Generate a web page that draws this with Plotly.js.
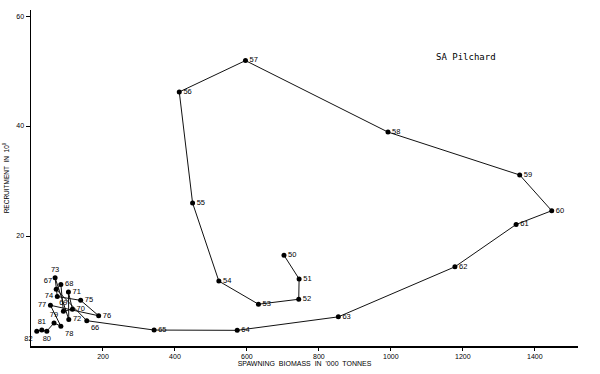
<!DOCTYPE html>
<html>
<head>
<meta charset="utf-8">
<script src="https://cdn.plot.ly/plotly-3.0.1.min.js"></script>
<style>html,body{margin:0;padding:0;background:#fff;}#chart{width:600px;height:374px;}</style>
</head>
<body>
<div id="chart"></div>
<script>
// Year labels (1950–1982)
const years = ["50","51","52","53","54","55","56","57","58","59","60","61","62","63","64","65","66",
               "67","68","69","70","71","72","73","74","75","76","77","78","79","80","81","82"];
// Spawning biomass ('000 tonnes)
const biomass = [703,745,744,632,522,449,412,596,992,1358,1447,1348,1178,854,573,342,155,
                 70,83,90,115,104,105,67,73,138,188,54,83,64,44,30,16];
// Recruitment (10^9)
const recruitment = [16.5,12.2,8.5,7.6,11.8,26.0,46.2,51.9,38.9,31.1,24.6,22.1,14.4,5.3,2.85,2.9,4.6,
                     10.3,11.2,6.3,6.7,9.8,4.8,12.4,9.0,8.3,5.5,7.4,3.6,4.2,2.7,2.9,2.7];
const xTicks = [200,400,600,800,1000,1200,1400];
const yTicks = [20,40,60];

const labelPos = ["middle right","middle right","middle right","middle right","middle right","middle right",
  "middle right","middle right","middle right","middle right","middle right","middle right","middle right",
  "middle right","middle right","middle right","bottom right",
  "top left","middle right","top center","middle right","middle right","middle right","top center",
  "middle left","middle right","middle right","middle left","bottom right","top center","bottom center",
  "top center","bottom left"];

const trace = {
  x: biomass, y: recruitment, text: years,
  type: "scatter", mode: "lines+markers+text",
  line: {color: "#111", width: 1},
  marker: {color: "#000", size: 5},
  textposition: labelPos,
  textfont: {family: "Liberation Sans, Arial, sans-serif", size: 7.5, color: "#000"},
  cliponaxis: false, hoverinfo: "skip"
};

const layout = {
  width: 600, height: 374,
  margin: {l: 31, r: 22, t: 10, b: 28},
  paper_bgcolor: "#fff", plot_bgcolor: "#fff",
  showlegend: false,
  font: {family: "Liberation Sans, Arial, sans-serif", color: "#000"},
  xaxis: {
    range: [0, 1520], tickvals: xTicks, ticktext: xTicks.map(String),
    showgrid: false, zeroline: false, showline: true, linecolor: "#000", linewidth: 1.5,
    ticks: "outside", ticklen: 3, tickcolor: "#000",
    tickfont: {size: 7, color: "#000"},
    title: {text: "SPAWNING  BIOMASS  IN  '000  TONNES", font: {size: 7, color: "#000"}, standoff: 2}
  },
  yaxis: {
    range: [0, 61.1], tickvals: yTicks, ticktext: yTicks.map(String),
    showgrid: false, zeroline: false, showline: true, linecolor: "#000", linewidth: 1.5,
    ticks: "outside", ticklen: 4, tickcolor: "#000",
    tickfont: {size: 7, color: "#000"},
    title: {text: "RECRUITMENT  IN  10<sup>9</sup>", font: {size: 6.5, color: "#000"}, standoff: 6}
  },
  annotations: [{
    text: "SA Pilchard", xref: "x", yref: "y", x: 1210, y: 52.5,
    showarrow: false, font: {family: "DejaVu Sans Mono, monospace", size: 9, color: "#000"}
  }]
};

Plotly.newPlot("chart", [trace], layout, {staticPlot: true, displayModeBar: false});
</script>
</body>
</html>
